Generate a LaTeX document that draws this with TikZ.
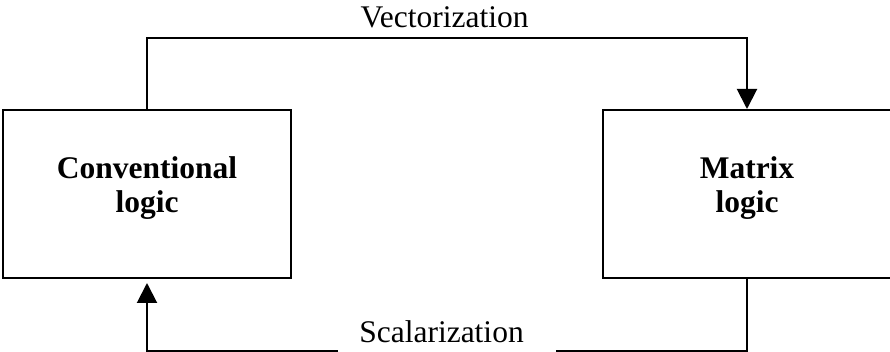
\documentclass[tikz,border=0pt]{standalone}
\usepackage{fontspec}
\setmainfont{Liberation Serif}
\usetikzlibrary{arrows.meta}
\tikzstyle{logicbox} = [rectangle, minimum width=144pt, minimum height=84pt, align=center, draw=black, line width=1pt, font=\bfseries\fontsize{15.75}{17}\selectfont]
\tikzstyle{lbl} = [font=\fontsize{15.75}{17}\selectfont, inner sep=0pt, anchor=base]
\tikzstyle{line} = [line width=1pt]
\tikzstyle{arrow} = [line width=1pt, -{Triangle[width=10pt,length=10pt]}]
\newcommand{\lowstrut}{\rule[-9pt]{0pt}{0pt}}

\begin{document}
\begin{tikzpicture}[node distance=300pt]
\useasboundingbox (0,0) rectangle (445pt,-176pt);

%Boxes
\node (conv) [logicbox] at (73.5pt,-97pt) {Conventional\\logic\lowstrut};
\node (matrix) [logicbox, right of=conv] {Matrix\\logic\lowstrut};

%Labels
\node (vect) [lbl] at (222.25pt,-14pt) {Vectorization};
\node (scal) [lbl] at (220.75pt,-171.5pt) {Scalarization};

%line levels
\coordinate (top) at (0,-19pt);
\coordinate (bot) at (0,-175.5pt);
\coordinate (gapL) at (169pt,-175.5pt);
\coordinate (gapR) at (278pt,-175.5pt);

%arrows
\draw [arrow] (conv.north) -- (conv.north |- top) -- (matrix.north |- top) -- (matrix.north);
\draw [line] (matrix.south) -- (matrix.south |- bot) -- (gapR);
\draw [arrow] (gapL) -- (conv.south |- bot) -- ([yshift=-2pt]conv.south);

\end{tikzpicture}
\end{document}
